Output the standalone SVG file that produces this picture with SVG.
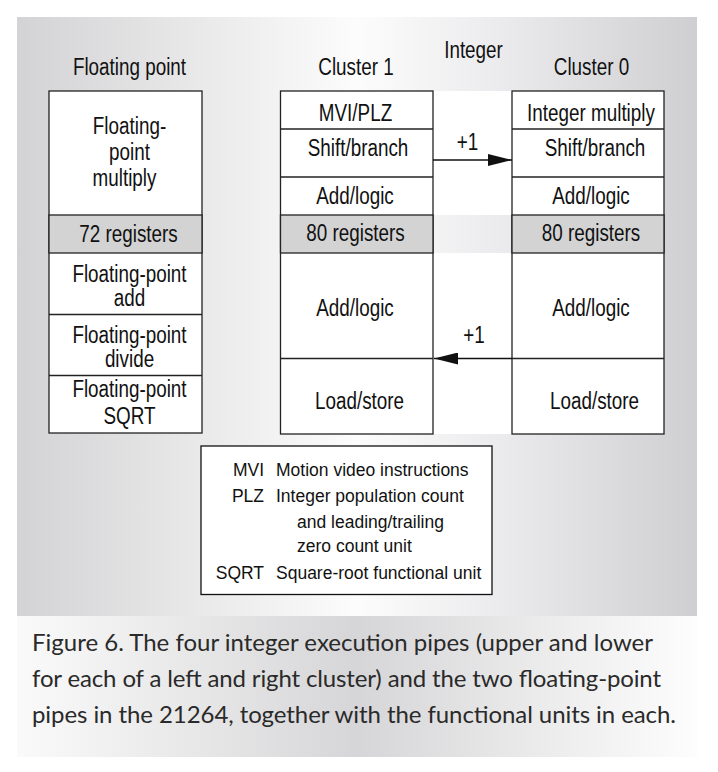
<svg xmlns="http://www.w3.org/2000/svg" width="718" height="772" viewBox="0 0 718 772">
<defs>
<linearGradient id="panelGrad" x1="0" y1="0" x2="1" y2="0">
<stop offset="0" stop-color="#d3d3d5"/>
<stop offset="0.5" stop-color="#fcfcfc"/>
<stop offset="0.7" stop-color="#ececee"/>
<stop offset="1" stop-color="#cfcfd2"/>
</linearGradient>
<linearGradient id="capGrad" x1="0" y1="0" x2="1" y2="0">
<stop offset="0" stop-color="#fafafa"/>
<stop offset="0.5" stop-color="#d6d6d8"/>
<stop offset="1" stop-color="#fdfdfd"/>
</linearGradient>
<marker id="arrow" viewBox="0 0 24 12" refX="24" refY="6" markerWidth="24" markerHeight="12" markerUnits="userSpaceOnUse" orient="auto">
<path d="M0,0 L24,6 L0,12 Z" fill="#111"/>
</marker>
</defs>
<style>
.box{fill:#fff;stroke:#222;stroke-width:1.3}
.reg{fill:#d3d3d3;stroke:#222;stroke-width:1.3}
.ln{stroke:#222;stroke-width:1.3;fill:none}
.lbl{font-family:"Liberation Sans",Arial,sans-serif;font-size:23px;fill:#111;text-anchor:middle}
.leg{font-family:"Liberation Sans",Arial,sans-serif;font-size:17.5px;fill:#111}
.cap{font-family:Lato,"Open Sans",sans-serif;font-size:24px;fill:#2a2a2a}
.conn{stroke:#111;stroke-width:1.4;fill:none}
</style>
<g id="background">
<rect x="17" y="17" width="680" height="599" fill="url(#panelGrad)"/>
<rect x="17" y="616" width="680" height="141" fill="url(#capGrad)"/>
</g>
<g id="headers">
<text class="lbl" transform="translate(129.5,75) scale(0.82,1)">Floating point</text>
<text class="lbl" transform="translate(356,75) scale(0.82,1)">Cluster 1</text>
<text class="lbl" transform="translate(473.5,58) scale(0.82,1)">Integer</text>
<text class="lbl" transform="translate(591.5,75) scale(0.82,1)">Cluster 0</text>
</g>
<g id="integer-gap">
<rect x="433" y="91" width="79" height="124" fill="#fff"/>
<rect x="433" y="253" width="79" height="181" fill="#fff"/>
</g>
<g id="fp-pipe">
<rect class="box" x="49" y="91" width="153" height="342"/>
<rect class="reg" x="49" y="215" width="153" height="38"/>
<line class="ln" x1="49" y1="314.5" x2="202" y2="314.5"/>
<line class="ln" x1="49" y1="375.5" x2="202" y2="375.5"/>
<text class="lbl" transform="translate(129.5,134) scale(0.82,1)">Floating-</text>
<text class="lbl" transform="translate(129.5,160) scale(0.82,1)">point</text>
<text class="lbl" transform="translate(124.5,186) scale(0.82,1)">multiply</text>
<text class="lbl" transform="translate(128.5,242) scale(0.82,1)">72 registers</text>
<text class="lbl" transform="translate(129.5,282) scale(0.82,1)">Floating-point</text>
<text class="lbl" transform="translate(129.5,306) scale(0.82,1)">add</text>
<text class="lbl" transform="translate(129.5,343) scale(0.82,1)">Floating-point</text>
<text class="lbl" transform="translate(129.5,367) scale(0.82,1)">divide</text>
<text class="lbl" transform="translate(129.5,397) scale(0.82,1)">Floating-point</text>
<text class="lbl" transform="translate(129.5,424) scale(0.82,1)">SQRT</text>
</g>
<g id="cluster1">
<rect class="box" x="280.5" y="91" width="152.5" height="343"/>
<rect class="reg" x="280.5" y="215" width="152.5" height="38"/>
<line class="ln" x1="280.5" y1="129" x2="433" y2="129"/>
<line class="ln" x1="280.5" y1="177" x2="433" y2="177"/>
<line class="ln" x1="280.5" y1="358.5" x2="433" y2="358.5"/>
<text class="lbl" transform="translate(355.5,121) scale(0.82,1)">MVI/PLZ</text>
<text class="lbl" transform="translate(358,156) scale(0.82,1)">Shift/branch</text>
<text class="lbl" transform="translate(355,204) scale(0.82,1)">Add/logic</text>
<text class="lbl" transform="translate(355.5,241) scale(0.82,1)">80 registers</text>
<text class="lbl" transform="translate(355,316) scale(0.82,1)">Add/logic</text>
<text class="lbl" transform="translate(359.5,409) scale(0.82,1)">Load/store</text>
</g>
<g id="cluster0">
<rect class="box" x="512" y="91" width="152" height="343"/>
<rect class="reg" x="512" y="215" width="152" height="38"/>
<line class="ln" x1="512" y1="129" x2="664" y2="129"/>
<line class="ln" x1="512" y1="177" x2="664" y2="177"/>
<line class="ln" x1="512" y1="358.5" x2="664" y2="358.5"/>
<text class="lbl" transform="translate(591,121) scale(0.82,1)">Integer multiply</text>
<text class="lbl" transform="translate(595,156) scale(0.82,1)">Shift/branch</text>
<text class="lbl" transform="translate(591,204) scale(0.82,1)">Add/logic</text>
<text class="lbl" transform="translate(591,241) scale(0.82,1)">80 registers</text>
<text class="lbl" transform="translate(591,316) scale(0.82,1)">Add/logic</text>
<text class="lbl" transform="translate(594.5,409) scale(0.82,1)">Load/store</text>
</g>
<g id="connectors">
<line class="conn" x1="433" y1="160" x2="512" y2="160" marker-end="url(#arrow)"/>
<text class="lbl" transform="translate(467.5,150) scale(0.82,1)">+1</text>
<line class="conn" x1="512" y1="358.5" x2="434" y2="358.5" marker-end="url(#arrow)"/>
<text class="lbl" transform="translate(474,343) scale(0.82,1)">+1</text>
</g>
<g id="legend">
<rect x="201" y="446" width="291" height="148.5" fill="#fff" stroke="#111" stroke-width="1.3"/>
<text class="leg" x="264" y="476" text-anchor="end">MVI</text>
<text class="leg" x="276" y="476">Motion video  instructions</text>
<text class="leg" x="264" y="502" text-anchor="end">PLZ</text>
<text class="leg" x="276" y="502">Integer population count</text>
<text class="leg" x="297" y="528">and leading/trailing</text>
<text class="leg" x="297" y="552">zero count unit</text>
<text class="leg" x="264" y="579" text-anchor="end">SQRT</text>
<text class="leg" x="276" y="579">Square-root functional unit</text>
</g>
<g id="caption">
<text class="cap" x="32" y="651" textLength="621">Figure 6. The four integer execution pipes (upper and lower</text>
<text class="cap" x="32" y="687" textLength="629">for each of a left and right cluster) and the two floating-point</text>
<text class="cap" x="32" y="723" textLength="644">pipes in the 21264, together with the functional units in each.</text>
</g>
</svg>
